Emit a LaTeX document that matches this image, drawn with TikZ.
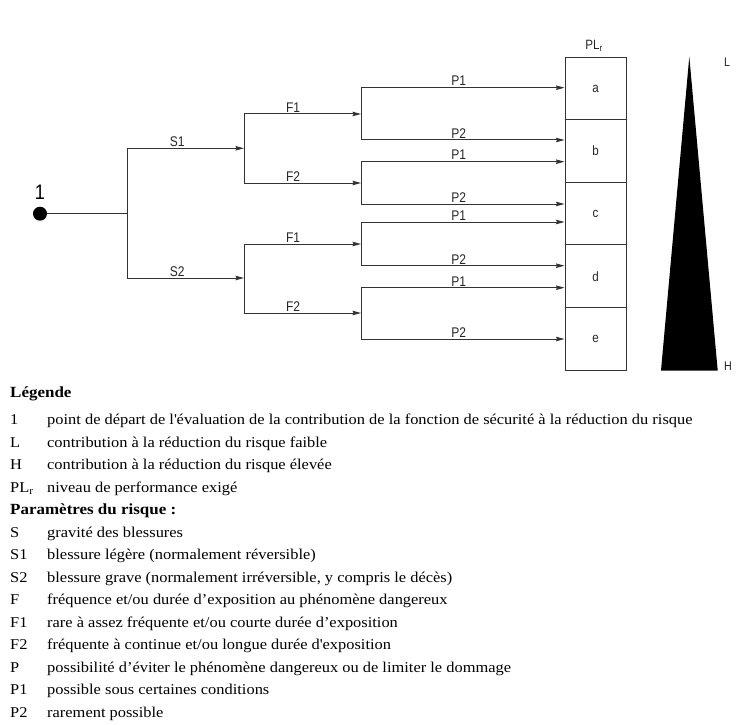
\documentclass[tikz,border=0pt]{standalone}
\usepackage{fontspec}
\setmainfont[FakeStretch=1.095]{Liberation Serif}
\newfontfamily\diagfont[FakeStretch=0.86]{Liberation Sans}
\usetikzlibrary{arrows.meta,calc}
\tikzset{
  wire/.style={draw=black!80, line width=1pt},
  arr/.style={wire, -{Stealth[length=8.5pt,width=4.5pt,inset=1pt]}},
  lab/.style={above, inner sep=1.2pt, font=\diagfont\fontsize{14}{14}\selectfont, text=black!85},
  cell/.style={draw=black!80, line width=1pt, minimum width=61pt, minimum height=62.54pt, inner sep=0pt,
    font=\diagfont\fontsize{13.5}{13.5}\selectfont, text=black!85},
  dot/.style={circle, fill=black, minimum size=14pt, inner sep=0pt},
  key/.style={anchor=base west, inner sep=0pt, font=\fontsize{15}{15}\selectfont},
  head/.style={anchor=base west, inner sep=0pt, font=\bfseries\fontsize{15.5}{15.5}\selectfont}
}
\begin{document}
\begin{tikzpicture}[x=1pt,y=-1pt]
\useasboundingbox (0,0) rectangle (740,725);
% start
\node[dot] (start) at (40,213.7) {};
\node[inner sep=0pt, anchor=south, font=\diagfont\fontsize{21}{21}\selectfont] (one) at (40,200) {1};
\coordinate (s) at (127,213.7);
\coordinate (sS1) at (127,148.3);
\coordinate (sS2) at (127,278);
\coordinate (fS1) at (244,148.3);
\coordinate (fS2) at (244,278);
% F branches
\coordinate (f11) at (244,114);
\coordinate (f12) at (244,183);
\coordinate (f21) at (244,244);
\coordinate (f22) at (244,313);
\coordinate (p11) at (361,114);
\coordinate (p12) at (361,183);
\coordinate (p21) at (361,244);
\coordinate (p22) at (361,313);
% P branches
\coordinate (q111) at (361,87.7);
\coordinate (q112) at (361,140);
\coordinate (q121) at (361,161.7);
\coordinate (q122) at (361,204);
\coordinate (q211) at (361,222);
\coordinate (q212) at (361,265.7);
\coordinate (q221) at (361,287.7);
\coordinate (q222) at (361,339);
% PLr column
\node[cell] (ca) at (595.5,88.6) {a};
\node[cell] (cb) at (595.5,151.1) {b};
\node[cell] (cc) at (595.5,213.7) {c};
\node[cell] (cd) at (595.5,276.2) {d};
\node[cell] (ce) at (595.5,338.8) {e};
\node[inner sep=0pt, anchor=south, font=\diagfont\fontsize{13.5}{13.5}\selectfont, text=black!85] (plr) at (594,52) {PL\textsubscript{r}};
% tree
\draw[wire] (start) -- (s);
\draw[wire] (sS1) -- (sS2);
\draw[arr] (sS1) -- node[lab, pos=0.43] {S1} (fS1);
\draw[arr] (sS2) -- node[lab, pos=0.43] {S2} (fS2);
\draw[wire] (f11) -- (f12);
\draw[wire] (f21) -- (f22);
\draw[arr] (f11) -- node[lab, pos=0.42] {F1} (p11);
\draw[arr] (f12) -- node[lab, pos=0.42] {F2} (p12);
\draw[arr] (f21) -- node[lab, pos=0.42] {F1} (p21);
\draw[arr] (f22) -- node[lab, pos=0.42] {F2} (p22);
\draw[wire] (q111) -- (q112);
\draw[wire] (q121) -- (q122);
\draw[wire] (q211) -- (q212);
\draw[wire] (q221) -- (q222);
\draw[arr] (q111) -- node[lab, pos=0.48] {P1} (q111 -| ca.west);
\draw[arr] (q112) -- node[lab, pos=0.48] {P2} (q112 -| ca.west);
\draw[arr] (q121) -- node[lab, pos=0.48] {P1} (q121 -| ca.west);
\draw[arr] (q122) -- node[lab, pos=0.48] {P2} (q122 -| ca.west);
\draw[arr] (q211) -- node[lab, pos=0.48] {P1} (q211 -| ca.west);
\draw[arr] (q212) -- node[lab, pos=0.48] {P2} (q212 -| ca.west);
\draw[arr] (q221) -- node[lab, pos=0.48] {P1} (q221 -| ca.west);
\draw[arr] (q222) -- node[lab, pos=0.48] {P2} (q222 -| ca.west);
% triangle
\fill[black] (689.3,56.7) -- (717.7,370.5) -- (661,370.5) -- cycle;
\node[inner sep=0pt, anchor=base west, font=\diagfont\fontsize{12.5}{12.5}\selectfont, text=black!85] (L) at (724,66.5) {L};
\node[inner sep=0pt, anchor=base west, font=\diagfont\fontsize{12.5}{12.5}\selectfont, text=black!85] (H) at (724,370.5) {H};
% legend
\node[head] (leg) at (10,397) {Légende};
\foreach \k/\t/\y in {
  1/{point de départ de l\textquotesingle évaluation de la contribution de la fonction de sécurité à la réduction du risque}/424.5,
  L/{contribution à la réduction du risque faible}/447,
  H/{contribution à la réduction du risque élevée}/469.5,
  PL\textsubscript{r}/{niveau de performance exigé}/492,
  S/{gravité des blessures}/537,
  S1/{blessure légère (normalement réversible)}/559.5,
  S2/{blessure grave (normalement irréversible, y compris le décès)}/582,
  F/{fréquence et/ou durée d’exposition au phénomène dangereux}/604.5,
  F1/{rare à assez fréquente et/ou courte durée d’exposition}/627,
  F2/{fréquente à continue et/ou longue durée d\textquotesingle exposition}/649.5,
  P/{possibilité d’éviter le phénomène dangereux ou de limiter le dommage}/672,
  P1/{possible sous certaines conditions}/694.5,
  P2/{rarement possible}/717}{
  \node[key] at (10,\y) {\k};
  \node[key] at (47,\y) {\t};
}
\node[head] (par) at (10,514.5) {Paramètres du risque :};
\end{tikzpicture}
\end{document}
